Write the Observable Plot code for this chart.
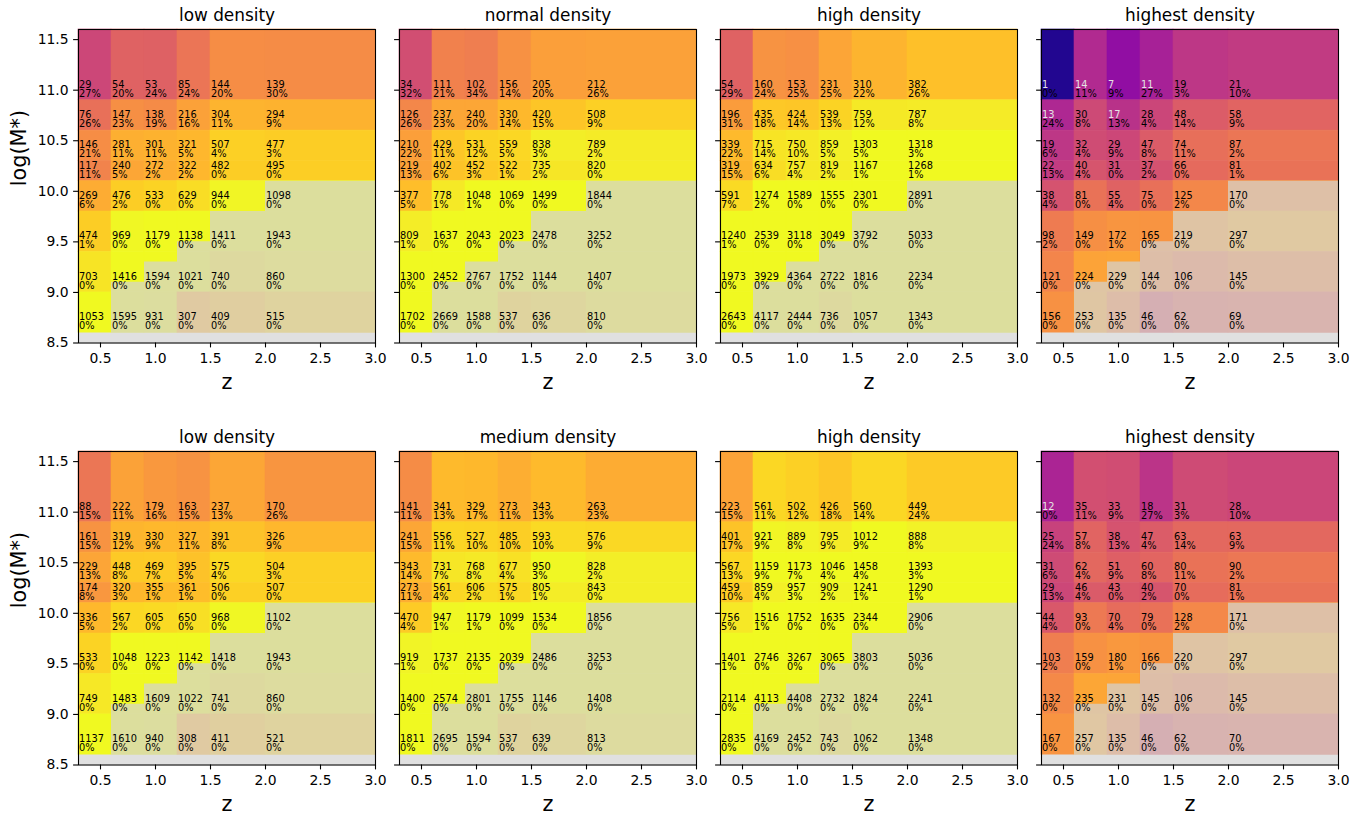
<!DOCTYPE html>
<html><head><meta charset="utf-8">
<script src="https://cdn.jsdelivr.net/npm/d3@7"></script>
<script src="https://cdn.jsdelivr.net/npm/@observablehq/plot@0.6"></script>
<style>
body{margin:0;background:#fff;font-family:"DejaVu Sans",sans-serif;}
#chart{position:relative;width:1362px;height:815px;overflow:hidden;background:#fff;}
#chart svg{position:absolute;}
</style></head><body><div id="chart"></div>
<script>
// ---- data ----
const zEdges = [0.3, 0.6, 0.9, 1.2, 1.5, 2.0, 3.0];
const massEdges = [8.6, 9.0, 9.4, 9.8, 10.1, 10.3, 10.6, 10.9, 11.6];
const completenessLimit = [8.6, 9.1, 9.3, 9.5, 9.8, 10.1];
const xTicks = [0.5, 1.0, 1.5, 2.0, 2.5, 3.0];
const yTicks = [8.5, 9.0, 9.5, 10.0, 10.5, 11.0, 11.5];
const titlesTop = ["low density", "normal density", "high density", "highest density"];
const titlesBottom = ["low density", "medium density", "high density", "highest density"];

// rows: mass bin 10.9–11.6 first, down to 8.6–9.0; columns: z bins
const countsTop1 = [[29,54,53,85,144,139],[76,147,138,216,304,294],[146,281,301,321,507,477],[117,240,272,322,482,495],[269,476,533,629,944,1098],[474,969,1179,1138,1411,1943],[703,1416,1594,1021,740,860],[1053,1595,931,307,409,515]];
const pctTop1 = [[27,20,24,24,20,30],[26,23,19,16,11,9],[21,11,11,5,4,3],[11,5,2,2,0,0],[6,2,0,0,0,0],[1,0,0,0,0,0],[0,0,0,0,0,0],[0,0,0,0,0,0]];
const countsTop2 = [[34,111,102,156,205,212],[126,237,240,330,420,508],[210,429,531,559,838,789],[219,402,452,522,735,820],[377,778,1048,1069,1499,1844],[809,1637,2043,2023,2478,3252],[1300,2452,2767,1752,1144,1407],[1702,2669,1588,537,636,810]];
const pctTop2 = [[32,21,34,14,20,26],[26,23,20,14,15,9],[22,11,12,5,3,2],[13,6,3,1,2,0],[5,1,1,0,0,0],[1,0,0,0,0,0],[0,0,0,0,0,0],[0,0,0,0,0,0]];
const countsTop3 = [[54,160,153,231,310,382],[196,435,424,539,759,787],[339,715,750,859,1303,1318],[319,634,757,819,1167,1268],[591,1274,1589,1555,2301,2891],[1240,2539,3118,3049,3792,5033],[1973,3929,4364,2722,1816,2234],[2643,4117,2444,736,1057,1343]];
const pctTop3 = [[29,24,25,25,22,26],[31,18,14,13,12,8],[22,14,10,5,5,3],[15,6,4,2,1,1],[7,2,0,0,0,0],[1,0,0,0,0,0],[0,0,0,0,0,0],[0,0,0,0,0,0]];
const countsTop4 = [[1,14,7,11,19,21],[13,30,17,28,48,58],[19,32,29,47,74,87],[22,40,31,37,66,81],[38,81,55,75,125,170],[98,149,172,165,219,297],[121,224,229,144,106,145],[156,253,135,46,62,69]];
const pctTop4 = [[0,11,9,27,3,10],[24,8,13,4,14,9],[6,4,9,8,11,2],[13,4,0,2,0,1],[4,0,4,0,2,0],[2,0,1,0,0,0],[0,0,0,0,0,0],[0,0,0,0,0,0]];
const countsBot1 = [[88,222,179,163,237,170],[161,319,330,327,391,326],[229,448,469,395,575,504],[174,320,355,361,506,507],[336,567,605,650,968,1102],[533,1048,1223,1142,1418,1943],[749,1483,1609,1022,741,860],[1137,1610,940,308,411,521]];
const pctBot1 = [[15,11,16,15,13,26],[15,12,9,11,8,9],[13,8,7,5,4,3],[8,3,1,1,0,0],[5,2,0,0,0,0],[0,0,0,0,0,0],[0,0,0,0,0,0],[0,0,0,0,0,0]];
const countsBot2 = [[141,341,329,273,343,263],[241,556,527,485,593,576],[343,731,768,677,950,828],[273,561,606,575,805,843],[470,947,1179,1099,1534,1856],[919,1737,2135,2039,2486,3253],[1400,2574,2801,1755,1146,1408],[1811,2695,1594,537,639,813]];
const pctBot2 = [[11,13,17,11,13,23],[15,11,10,10,10,9],[14,7,8,4,3,2],[11,4,2,1,1,0],[4,1,1,0,0,0],[1,0,0,0,0,0],[0,0,0,0,0,0],[0,0,0,0,0,0]];
const countsBot3 = [[223,561,502,426,560,449],[401,921,889,795,1012,888],[567,1159,1173,1046,1458,1393],[459,859,957,909,1241,1290],[756,1516,1752,1635,2344,2906],[1401,2746,3267,3065,3803,5036],[2114,4113,4408,2732,1824,2241],[2835,4169,2452,743,1062,1348]];
const pctBot3 = [[15,11,12,18,14,24],[17,9,8,9,9,8],[13,9,7,4,4,3],[10,4,3,2,1,1],[5,1,0,0,0,0],[1,0,0,0,0,0],[0,0,0,0,0,0],[0,0,0,0,0,0]];
const countsBot4 = [[12,35,33,18,31,28],[25,57,38,47,63,63],[31,62,51,60,80,90],[29,46,43,40,70,81],[44,93,70,79,128,171],[103,159,180,166,220,297],[132,235,231,145,106,145],[167,257,135,46,62,70]];
const pctBot4 = [[0,11,9,27,3,10],[24,8,13,4,14,9],[6,4,9,8,11,2],[13,4,0,2,0,1],[4,0,4,0,2,0],[2,0,1,0,0,0],[0,0,0,0,0,0],[0,0,0,0,0,0]];

const panels = [
  {row: 0, col: 0, title: titlesTop[0], counts: countsTop1, pct: pctTop1},
  {row: 0, col: 1, title: titlesTop[1], counts: countsTop2, pct: pctTop2},
  {row: 0, col: 2, title: titlesTop[2], counts: countsTop3, pct: pctTop3},
  {row: 0, col: 3, title: titlesTop[3], counts: countsTop4, pct: pctTop4},
  {row: 1, col: 0, title: titlesBottom[0], counts: countsBot1, pct: pctBot1},
  {row: 1, col: 1, title: titlesBottom[1], counts: countsBot2, pct: pctBot2},
  {row: 1, col: 2, title: titlesBottom[2], counts: countsBot3, pct: pctBot3},
  {row: 1, col: 3, title: titlesBottom[3], counts: countsBot4, pct: pctBot4}
];

// ---- layout ----
const plotLefts = [78, 399, 720, 1041];
const plotTops = [29.2, 450.7];
const plotW = 297, plotH = 313.5;
const mTop = 32, mBottom = 56, mRight = 12;
const chart = document.getElementById("chart");
const maskPts = zEdges.map((z, i) => ({z, m: completenessLimit[Math.min(i, completenessLimit.length - 1)]}));

for (const p of panels) {
  const cells = [];
  p.counts.forEach((rowVals, r) => {
    const mi = massEdges.length - 2 - r;
    rowVals.forEach((n, c) => {
      cells.push({z1: zEdges[c], z2: zEdges[c + 1], m1: massEdges[mi], m2: massEdges[mi + 1], n, pct: p.pct[r][c]});
    });
  });
  const first = p.col === 0;
  const mLeft = first ? 78 : 14;
  const fig = Plot.plot({
    width: mLeft + plotW + mRight,
    height: mTop + plotH + mBottom,
    marginLeft: mLeft, marginRight: mRight, marginTop: mTop, marginBottom: mBottom,
    style: {background: "transparent", fontFamily: "'DejaVu Sans', sans-serif", color: "black", overflow: "visible"},
    x: {domain: [0.3, 3.0]},
    y: {domain: [8.5, 11.6]},
    color: {type: "log", scheme: "plasma", domain: [0.8, 1000], clamp: true},
    marks: [
      Plot.rect(cells, {x1: "z1", x2: "z2", y1: "m1", y2: "m2", fill: "n", stroke: "n", strokeWidth: 0.6}),
      Plot.areaY(maskPts, {x: "z", y1: () => 8.5, y2: "m", curve: "step-after", fill: "#d3d3d3", fillOpacity: 0.7}),
      Plot.text(cells, {x: "z1", y: "m1", text: d => String(d.n), textAnchor: "start", lineAnchor: "bottom", dx: 0.5, dy: -12.5, fontSize: 9.8, fill: d => d.n < 18 ? "#e4e4e4" : "black"}),
      Plot.text(cells, {x: "z1", y: "m1", text: d => d.pct + "%", textAnchor: "start", lineAnchor: "bottom", dx: 0.5, dy: -3.5, fontSize: 9.8, fill: "black"}),
      Plot.frame({stroke: "black", strokeWidth: 1.1}),
      Plot.axisX({ticks: xTicks, tickSize: 4.9, tickPadding: 5.5, tickFormat: d3.format(".1f"), fontSize: 13.9, label: null, strokeWidth: 1.1}),
      Plot.axisY({ticks: yTicks, tickSize: 4.9, tickPadding: 5, tickFormat: first ? d3.format(".1f") : () => "", fontSize: 13.9, label: null, strokeWidth: 1.1}),
      Plot.text([p.title], {frameAnchor: "top", lineAnchor: "bottom", dy: -9, fontSize: 16.9, fill: "black"}),
      Plot.text(["z"], {frameAnchor: "bottom", lineAnchor: "middle", dy: 39, fontSize: 20.8, fill: "black"}),
      ...(first ? [Plot.text(["log(M*)"], {frameAnchor: "left", lineAnchor: "middle", dx: -59, rotate: -90, fontSize: 20.8, fill: "black"})] : [])
    ]
  });
  fig.style.left = (plotLefts[p.col] - mLeft) + "px";
  fig.style.top = (plotTops[p.row] - mTop) + "px";
  chart.appendChild(fig);
}
</script></body></html>
